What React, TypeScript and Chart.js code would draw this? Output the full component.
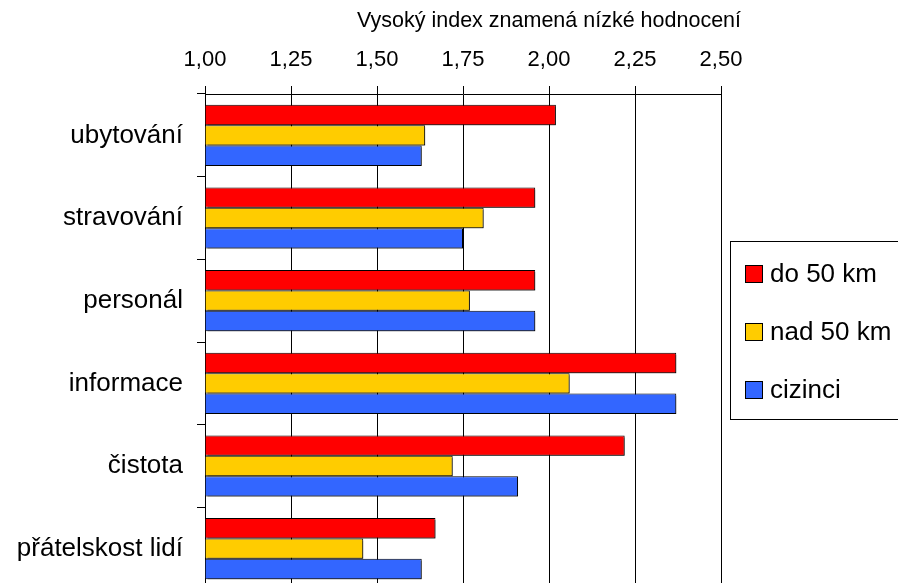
import React, { useEffect, useRef } from "react";
import { Chart, registerables } from "chart.js";

Chart.register(...registerables);

const categories = ["ubytování", "stravování", "personál", "informace", "čistota", "přátelskost lidí"];
const seriesNames = ["do 50 km", "nad 50 km", "cizinci"];
const do50 = [2.02, 1.96, 1.96, 2.37, 2.22, 1.67];
const nad50 = [1.64, 1.81, 1.77, 2.06, 1.72, 1.46];
const cizinci = [1.63, 1.75, 1.96, 2.37, 1.91, 1.63];
const colors = ["#FF0000", "#FFCC00", "#3366FF"];
const axisTitle = "Vysoký index znamená nízké hodnocení";
const xMin = 1;
const xMax = 2.5;
const xStep = 0.25;

const FONT = "'Liberation Sans', Arial, sans-serif";

const shadowPlugin = {
  id: "barShadow",
  beforeDatasetDraw(chart: any) {
    const ctx = chart.ctx;
    ctx.save();
    ctx.shadowColor = "rgba(0,0,0,0.45)";
    ctx.shadowOffsetX = 2;
    ctx.shadowOffsetY = 2;
    ctx.shadowBlur = 0;
  },
  afterDatasetDraw(chart: any) {
    chart.ctx.restore();
  },
};

const decorPlugin = {
  id: "decor",
  afterDraw(chart: any) {
    const ctx = chart.ctx;
    ctx.save();
    // title
    ctx.fillStyle = "#000";
    ctx.font = `21.5px ${FONT}`;
    ctx.textAlign = "center";
    ctx.textBaseline = "middle";
    ctx.fillText(axisTitle, 549, 21);
    // legend box
    const bx = 730.5, by = 241.5, bh = 178;
    ctx.strokeStyle = "#000";
    ctx.lineWidth = 1;
    ctx.strokeRect(bx, by, 220, bh);
    ctx.font = `26px ${FONT}`;
    ctx.textAlign = "left";
    chart.data.datasets.forEach((ds: any, i: number) => {
      const cy = 274 + i * 58;
      ctx.fillStyle = ds.backgroundColor;
      ctx.fillRect(745.5, cy - 8.5, 17, 17);
      ctx.strokeStyle = "#000";
      ctx.strokeRect(745.5, cy - 8.5, 17, 17);
      ctx.fillStyle = "#000";
      ctx.fillText(ds.label, 770, cy + 1);
    });
    ctx.restore();
  },
};

export default function App() {
  const ref = useRef<HTMLCanvasElement>(null);
  useEffect(() => {
    if (!ref.current) return;
    const values = [do50, nad50, cizinci];
    const chart = new Chart(ref.current, {
      type: "bar",
      data: {
        labels: categories,
        datasets: seriesNames.map((name, i) => ({
          label: name,
          data: values[i],
          backgroundColor: colors[i],
          borderColor: "#000",
          borderWidth: 1,
          borderSkipped: "start",
          base: xMin,
          categoryPercentage: 0.74,
          barPercentage: 1.0,
        })),
      },
      options: {
        indexAxis: "y",
        responsive: false,
        maintainAspectRatio: false,
        animation: false,
        devicePixelRatio: 1,
        layout: { padding: { left: 0, right: 177, top: 0, bottom: 10 } },
        plugins: { legend: { display: false }, tooltip: { enabled: false }, title: { display: false } },
        scales: {
          x: {
            position: "top",
            min: xMin,
            max: xMax,
            afterFit(scale: any) {
              scale.height = 94;
              scale.paddingLeft = 0;
              scale.paddingRight = 0;
            },
            afterBuildTicks(scale: any) {
              const t = [];
              for (let v = xMin; v <= xMax + 1e-9; v += xStep) t.push({ value: Math.round(v * 100) / 100 });
              scale.ticks = t;
            },
            ticks: {
              color: "#000",
              font: { family: FONT, size: 22 },
              padding: 13,
              maxRotation: 0,
              autoSkip: false,
              callback: (v: any) => Number(v).toFixed(2).replace(".", ","),
            },
            grid: { color: "#000", lineWidth: 1, tickLength: 8, drawTicks: true },
            border: { color: "#000", width: 1 },
          },
          y: {
            position: "left",
            afterFit(scale: any) {
              scale.width = 205;
              scale.paddingTop = 0;
              scale.paddingBottom = 0;
            },
            ticks: { color: "#000", font: { family: FONT, size: 26 }, padding: 14, autoSkip: false },
            grid: { color: "#000", offset: true, drawOnChartArea: false, tickLength: 8 },
            border: { color: "#000", width: 1 },
          },
        },
      },
      plugins: [shadowPlugin, decorPlugin],
    });
    return () => chart.destroy();
  }, []);
  return (
    <div style={{ position: "fixed", left: 0, top: 0, width: 898, height: 583, overflow: "hidden", background: "#fff" }}>
      <div style={{ width: 898, height: 600 }}>
        <canvas ref={ref} width={898} height={600} style={{ display: "block", width: 898, height: 600 }} />
      </div>
    </div>
  );
}
